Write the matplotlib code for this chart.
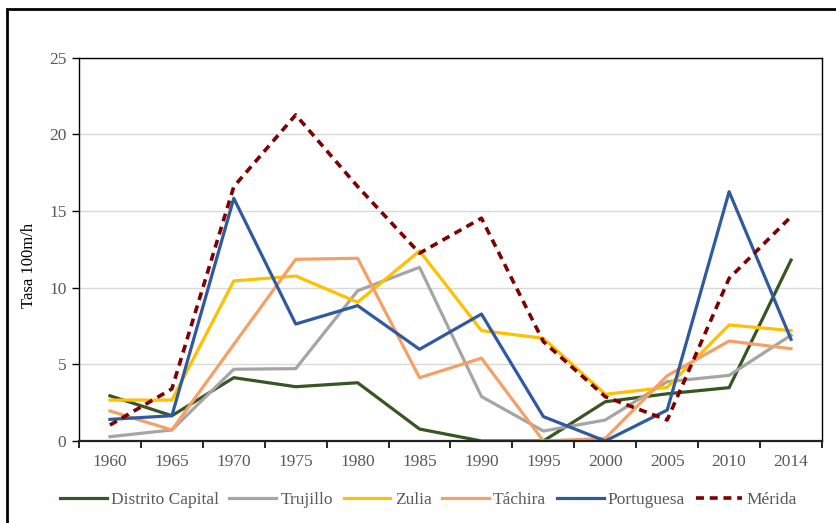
import matplotlib
matplotlib.use("Agg")
import matplotlib.pyplot as plt
from matplotlib.patches import Rectangle
import numpy as np

years = ["1960", "1965", "1970", "1975", "1980", "1985", "1990", "1995", "2000", "2005", "2010", "2014"]
distrito_capital = [2.95, 1.65, 4.13, 3.54, 3.80, 0.78, 0.0, 0.0, 2.56, 3.08, 3.48, 11.8]
trujillo = [0.28, 0.72, 4.68, 4.72, 9.80, 11.33, 2.90, 0.65, 1.37, 3.87, 4.28, 6.90]
zulia = [2.67, 2.67, 10.44, 10.76, 9.05, 12.40, 7.20, 6.70, 3.05, 3.50, 7.57, 7.20]
tachira = [1.96, 0.72, 6.30, 11.85, 11.92, 4.13, 5.40, 0.0, 0.17, 4.26, 6.52, 6.02]
portuguesa = [1.41, 1.65, 15.83, 7.63, 8.83, 5.98, 8.28, 1.59, 0.0, 2.02, 16.26, 6.63]
merida = [1.04, 3.40, 16.59, 21.27, 16.60, 12.25, 14.53, 6.48, 2.89, 1.37, 10.61, 14.63]

series = [
    ("Distrito Capital", distrito_capital, "#375623", "-"),
    ("Trujillo", trujillo, "#A5A5A5", "-"),
    ("Zulia", zulia, "#FFC000", "-"),
    ("Táchira", tachira, "#F4A066", "-"),
    ("Portuguesa", portuguesa, "#2F5AA0", "-"),
    ("Mérida", merida, "#7F0000", "--"),
]

plt.rcParams['font.family'] = ['Liberation Serif', 'DejaVu Serif']

W, H = 837, 523
fig = plt.figure(figsize=(W / 100, H / 100), dpi=100)
ax = fig.add_axes([79 / W, 1 - 441 / H, (822 - 79) / W, (441 - 57.7) / H])

x = np.arange(len(years))
for name, vals, col, ls in series:
    if ls == "--":
        ax.plot(x, vals, color=col, lw=2.6, ls=(0, (2.2, 1.6)), label=name, solid_capstyle='butt')
    else:
        ax.plot(x, vals, color=col, lw=2.3, ls=ls, label=name)

ax.set_xlim(-0.5, len(years) - 0.5)
ax.set_ylim(0, 25)
ax.set_yticks([0, 5, 10, 15, 20, 25])
ax.yaxis.grid(True, color="#D9D9D9", lw=1)
ax.set_axisbelow(True)

ax.set_xticks(np.arange(-0.5, len(years), 1.0))
ax.set_xticklabels([])
ax.set_xticks(x, minor=True)
ax.set_xticklabels(years, minor=True)
ax.tick_params(axis='x', which='major', length=5, width=1.2, color='black', direction='out')
ax.tick_params(axis='x', which='minor', length=0, pad=9, labelsize=12.5, labelcolor='#595959')
ax.tick_params(axis='y', length=5, width=1, color='black', labelsize=12.5, labelcolor='#595959', pad=4)

for s in ['top', 'right', 'left']:
    ax.spines[s].set_color('black')
    ax.spines[s].set_linewidth(1.0)
ax.spines['bottom'].set_linewidth(1.6)
ax.spines['bottom'].set_color('#222222')

ax.set_ylabel("Tasa 100m/h", fontsize=12, color='black')
ax.yaxis.set_label_coords(-0.057, 0.459)

leg = fig.legend(loc='center', bbox_to_anchor=(428.5 / W, 23 / H), ncol=6, frameon=False,
                 fontsize=12.5, handlelength=2.7, handletextpad=0.25, columnspacing=0.6,
                 labelcolor='#595959')

rect = Rectangle((7 / W, -0.05), 1.1, 1 - 9 / H + 0.05, transform=fig.transFigure,
                 fill=False, edgecolor='black', lw=2.0, clip_on=False)
fig.patches.append(rect)

fig.savefig("out.png", dpi=100)
